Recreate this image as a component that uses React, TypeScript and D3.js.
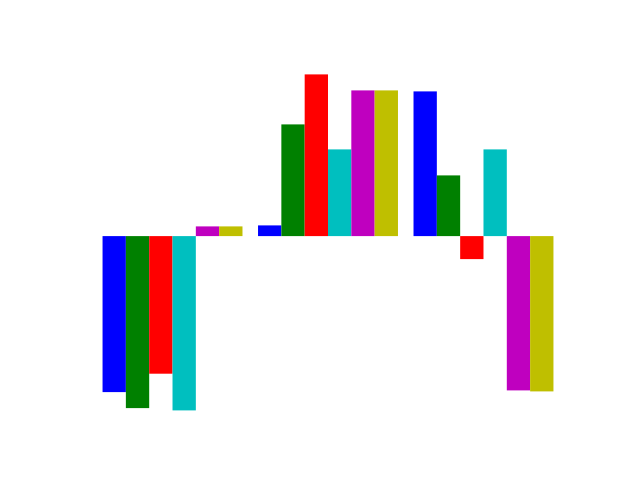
import React from "react";
import * as d3 from "d3";

const groups = [0, 1, 2];
const seriesColors = ["#0000ff", "#008000", "#ff0000", "#00bfbf", "#bf00bf", "#bfbf00"];
// one row per group, one value per colour
const values = [
  [-15.6, -17.2, -13.76, -17.43, 0.97, 0.97],
  [1.07, 11.17, 16.17, 8.67, 14.57, 14.57],
  [14.47, 6.07, -2.3, 8.67, -15.43, -15.53],
];

const width = 640;
const height = 480;
const barWidth = 0.15;

export default function App() {
  // matplotlib default axes box, axes hidden
  const left = 0.125 * width;
  const right = 0.9 * width;
  const top = 0.12 * height;
  const bottom = 0.89 * height;

  const xMin = -0.45;
  const xMax = 2.45;
  const xPad = (xMax - xMin) * 0.05;
  const x = d3.scaleLinear().domain([xMin - xPad, xMax + xPad]).range([left, right]);

  const all = values.flat();
  const yLo = Math.min(0, d3.min(all)!);
  const yHi = Math.max(0, d3.max(all)!);
  const yPad = (yHi - yLo) * 0.05;
  const y = d3.scaleLinear().domain([yLo - yPad, yHi + yPad]).range([bottom, top]);

  return (
    <svg
      width={width}
      height={height}
      style={{ position: "absolute", left: 0, top: 0, background: "#fff" }}
    >
      {groups.map((g, gi) =>
        values[gi].map((v, j) => {
          const x0 = g - 0.45 + j * barWidth;
          return (
            <rect
              key={`${gi}-${j}`}
              x={x(x0)}
              width={x(x0 + barWidth) - x(x0)}
              y={y(Math.max(0, v))}
              height={Math.abs(y(v) - y(0))}
              fill={seriesColors[j]}
            />
          );
        })
      )}
    </svg>
  );
}
